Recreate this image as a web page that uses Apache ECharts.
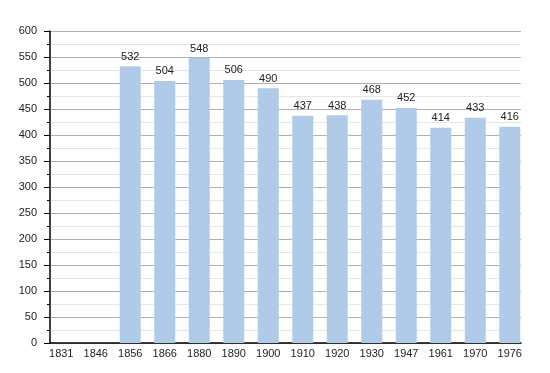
<!DOCTYPE html>
<html><head><meta charset="utf-8">
<script src="https://cdn.jsdelivr.net/npm/echarts@6/dist/echarts.min.js"></script>
<style>html,body{margin:0;padding:0;background:#fff}#c{width:550px;height:373px}</style>
</head><body><div id="c"></div>
<script>
const categories = ['1831','1846','1856','1866','1880','1890','1900','1910','1920','1930','1947','1961','1970','1976'];
const population = [null,null,532,504,548,506,490,437,438,468,452,414,433,416];
const yMin = 0, yMax = 600, yStep = 50;

const chart = echarts.init(document.getElementById('c'), null, {renderer:'canvas'});
const font = 'Liberation Sans, Arial, sans-serif';
chart.setOption({
  animation:false,
  backgroundColor:'#fff',
  grid:[
    {left:44, width:483, top:31, bottom:30},
    {left:50, right:29, top:31, bottom:30}
  ],
  xAxis:[
    {type:'category', gridIndex:0, data:categories, boundaryGap:true,
     axisLine:{show:false}, axisTick:{show:false},
     axisLabel:{color:'#222', fontSize:11, fontFamily:font, margin:5, interval:0},
     splitLine:{show:false}},
    {type:'value', gridIndex:1, min:0, max:1, show:true,
     axisLine:{show:true, lineStyle:{color:'#000', width:1.5}}, axisTick:{show:false},
     axisLabel:{show:false}, splitLine:{show:false}}
  ],
  yAxis:[
    {type:'value', gridIndex:0, min:yMin, max:yMax, interval:yStep, show:false, splitLine:{show:false}},
    {type:'value', gridIndex:1, min:yMin, max:yMax, interval:yStep,
     axisLine:{show:true, lineStyle:{color:'#000', width:1.5}},
     axisTick:{show:true, length:6, lineStyle:{color:'#000'}},
     minorTick:{show:true, splitNumber:2, length:3, lineStyle:{color:'#000'}},
     axisLabel:{color:'#222', fontSize:11, fontFamily:font, margin:13},
     splitLine:{show:true, lineStyle:{color:'#b0b0b0', width:1}},
     minorSplitLine:{show:true, lineStyle:{color:'#e6e6e6', width:1}}}
  ],
  series:[
    {type:'line', xAxisIndex:1, yAxisIndex:1, data:[], silent:true},
    {type:'bar', xAxisIndex:0, yAxisIndex:0, data:population, barWidth:21,
     itemStyle:{color:'#b0cbe7'},
     label:{show:true, position:'top', distance:4, color:'#222', fontSize:11, fontFamily:font}}
  ]
});
</script></body></html>
